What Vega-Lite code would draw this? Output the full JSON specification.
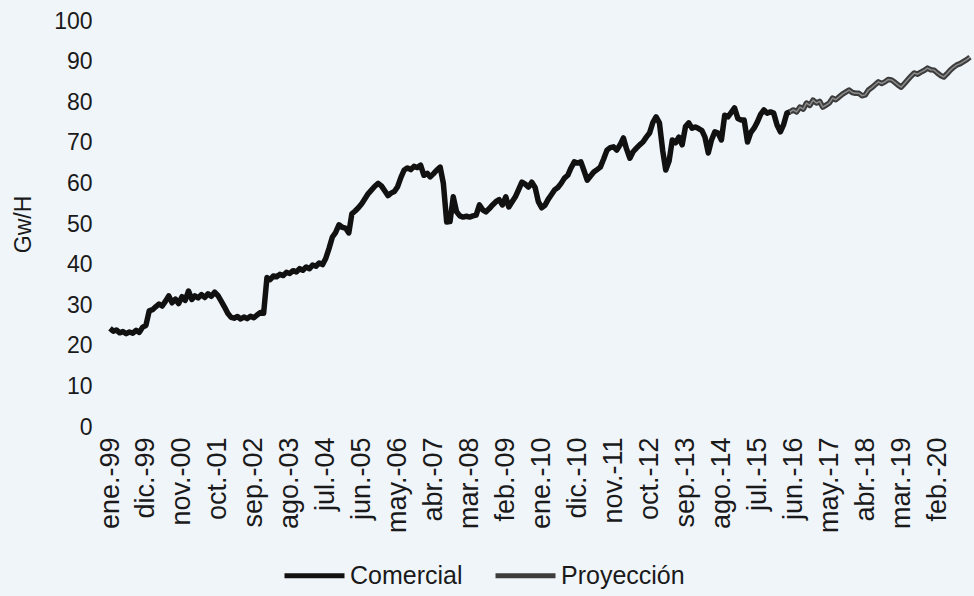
{
  "$schema": "https://vega.github.io/schema/vega-lite/v6.json",
  "autosize": {"type": "none"},
  "width": 860,
  "height": 406,
  "padding": {"left": 110, "top": 21, "right": 4, "bottom": 169},
  "background": "#f0f5fa",
  "config": {
    "view": {"stroke": null},
    "font": "Liberation Sans",
    "axis": {"labelColor": "#1a1a1a", "titleColor": "#1a1a1a", "labelFont": "Liberation Sans", "titleFont": "Liberation Sans"},
    "legend": {"labelColor": "#1a1a1a", "labelFont": "Liberation Sans"}
  },
  "data": {"values": [
    {"fecha":"1999-01","valor":24.3,"serie":"Comercial"},{"fecha":"1999-02","valor":23.6,"serie":"Comercial"},{"fecha":"1999-03","valor":23.9,"serie":"Comercial"},{"fecha":"1999-04","valor":23.2,"serie":"Comercial"},{"fecha":"1999-05","valor":23.5,"serie":"Comercial"},{"fecha":"1999-06","valor":23.0,"serie":"Comercial"},{"fecha":"1999-07","valor":23.4,"serie":"Comercial"},{"fecha":"1999-08","valor":23.1,"serie":"Comercial"},{"fecha":"1999-09","valor":23.8,"serie":"Comercial"},{"fecha":"1999-10","valor":23.3,"serie":"Comercial"},{"fecha":"1999-11","valor":24.6,"serie":"Comercial"},{"fecha":"1999-12","valor":25.0,"serie":"Comercial"},
    {"fecha":"2000-01","valor":28.6,"serie":"Comercial"},{"fecha":"2000-02","valor":28.9,"serie":"Comercial"},{"fecha":"2000-03","valor":29.6,"serie":"Comercial"},{"fecha":"2000-04","valor":30.3,"serie":"Comercial"},{"fecha":"2000-05","valor":29.8,"serie":"Comercial"},{"fecha":"2000-06","valor":31.0,"serie":"Comercial"},{"fecha":"2000-07","valor":32.3,"serie":"Comercial"},{"fecha":"2000-08","valor":30.6,"serie":"Comercial"},{"fecha":"2000-09","valor":31.5,"serie":"Comercial"},{"fecha":"2000-10","valor":30.4,"serie":"Comercial"},{"fecha":"2000-11","valor":32.1,"serie":"Comercial"},{"fecha":"2000-12","valor":31.2,"serie":"Comercial"},
    {"fecha":"2001-01","valor":33.5,"serie":"Comercial"},{"fecha":"2001-02","valor":31.4,"serie":"Comercial"},{"fecha":"2001-03","valor":32.3,"serie":"Comercial"},{"fecha":"2001-04","valor":31.8,"serie":"Comercial"},{"fecha":"2001-05","valor":32.6,"serie":"Comercial"},{"fecha":"2001-06","valor":31.9,"serie":"Comercial"},{"fecha":"2001-07","valor":32.8,"serie":"Comercial"},{"fecha":"2001-08","valor":32.2,"serie":"Comercial"},{"fecha":"2001-09","valor":33.2,"serie":"Comercial"},{"fecha":"2001-10","valor":32.4,"serie":"Comercial"},{"fecha":"2001-11","valor":31.0,"serie":"Comercial"},{"fecha":"2001-12","valor":29.6,"serie":"Comercial"},
    {"fecha":"2002-01","valor":28.0,"serie":"Comercial"},{"fecha":"2002-02","valor":27.0,"serie":"Comercial"},{"fecha":"2002-03","valor":26.8,"serie":"Comercial"},{"fecha":"2002-04","valor":27.2,"serie":"Comercial"},{"fecha":"2002-05","valor":26.6,"serie":"Comercial"},{"fecha":"2002-06","valor":27.1,"serie":"Comercial"},{"fecha":"2002-07","valor":26.7,"serie":"Comercial"},{"fecha":"2002-08","valor":27.3,"serie":"Comercial"},{"fecha":"2002-09","valor":26.9,"serie":"Comercial"},{"fecha":"2002-10","valor":27.6,"serie":"Comercial"},{"fecha":"2002-11","valor":28.2,"serie":"Comercial"},{"fecha":"2002-12","valor":28.0,"serie":"Comercial"},
    {"fecha":"2003-01","valor":36.8,"serie":"Comercial"},{"fecha":"2003-02","valor":36.3,"serie":"Comercial"},{"fecha":"2003-03","valor":37.2,"serie":"Comercial"},{"fecha":"2003-04","valor":37.0,"serie":"Comercial"},{"fecha":"2003-05","valor":37.6,"serie":"Comercial"},{"fecha":"2003-06","valor":37.3,"serie":"Comercial"},{"fecha":"2003-07","valor":38.1,"serie":"Comercial"},{"fecha":"2003-08","valor":37.8,"serie":"Comercial"},{"fecha":"2003-09","valor":38.5,"serie":"Comercial"},{"fecha":"2003-10","valor":38.2,"serie":"Comercial"},{"fecha":"2003-11","valor":39.0,"serie":"Comercial"},{"fecha":"2003-12","valor":38.6,"serie":"Comercial"},
    {"fecha":"2004-01","valor":39.4,"serie":"Comercial"},{"fecha":"2004-02","valor":39.0,"serie":"Comercial"},{"fecha":"2004-03","valor":39.9,"serie":"Comercial"},{"fecha":"2004-04","valor":39.6,"serie":"Comercial"},{"fecha":"2004-05","valor":40.4,"serie":"Comercial"},{"fecha":"2004-06","valor":40.0,"serie":"Comercial"},{"fecha":"2004-07","valor":41.5,"serie":"Comercial"},{"fecha":"2004-08","valor":44.0,"serie":"Comercial"},{"fecha":"2004-09","valor":46.8,"serie":"Comercial"},{"fecha":"2004-10","valor":47.9,"serie":"Comercial"},{"fecha":"2004-11","valor":49.8,"serie":"Comercial"},{"fecha":"2004-12","valor":49.2,"serie":"Comercial"},
    {"fecha":"2005-01","valor":49.0,"serie":"Comercial"},{"fecha":"2005-02","valor":47.8,"serie":"Comercial"},{"fecha":"2005-03","valor":52.5,"serie":"Comercial"},{"fecha":"2005-04","valor":53.2,"serie":"Comercial"},{"fecha":"2005-05","valor":54.0,"serie":"Comercial"},{"fecha":"2005-06","valor":55.0,"serie":"Comercial"},{"fecha":"2005-07","valor":56.2,"serie":"Comercial"},{"fecha":"2005-08","valor":57.5,"serie":"Comercial"},{"fecha":"2005-09","valor":58.4,"serie":"Comercial"},{"fecha":"2005-10","valor":59.3,"serie":"Comercial"},{"fecha":"2005-11","valor":60.0,"serie":"Comercial"},{"fecha":"2005-12","valor":59.4,"serie":"Comercial"},
    {"fecha":"2006-01","valor":58.2,"serie":"Comercial"},{"fecha":"2006-02","valor":57.0,"serie":"Comercial"},{"fecha":"2006-03","valor":57.6,"serie":"Comercial"},{"fecha":"2006-04","valor":58.0,"serie":"Comercial"},{"fecha":"2006-05","valor":59.2,"serie":"Comercial"},{"fecha":"2006-06","valor":61.5,"serie":"Comercial"},{"fecha":"2006-07","valor":63.3,"serie":"Comercial"},{"fecha":"2006-08","valor":63.8,"serie":"Comercial"},{"fecha":"2006-09","valor":63.4,"serie":"Comercial"},{"fecha":"2006-10","valor":64.2,"serie":"Comercial"},{"fecha":"2006-11","valor":63.9,"serie":"Comercial"},{"fecha":"2006-12","valor":64.5,"serie":"Comercial"},
    {"fecha":"2007-01","valor":62.0,"serie":"Comercial"},{"fecha":"2007-02","valor":62.5,"serie":"Comercial"},{"fecha":"2007-03","valor":61.6,"serie":"Comercial"},{"fecha":"2007-04","valor":62.4,"serie":"Comercial"},{"fecha":"2007-05","valor":63.3,"serie":"Comercial"},{"fecha":"2007-06","valor":64.0,"serie":"Comercial"},{"fecha":"2007-07","valor":60.0,"serie":"Comercial"},{"fecha":"2007-08","valor":50.5,"serie":"Comercial"},{"fecha":"2007-09","valor":50.6,"serie":"Comercial"},{"fecha":"2007-10","valor":56.7,"serie":"Comercial"},{"fecha":"2007-11","valor":53.0,"serie":"Comercial"},{"fecha":"2007-12","valor":52.0,"serie":"Comercial"},
    {"fecha":"2008-01","valor":51.7,"serie":"Comercial"},{"fecha":"2008-02","valor":51.9,"serie":"Comercial"},{"fecha":"2008-03","valor":51.7,"serie":"Comercial"},{"fecha":"2008-04","valor":52.0,"serie":"Comercial"},{"fecha":"2008-05","valor":52.2,"serie":"Comercial"},{"fecha":"2008-06","valor":54.7,"serie":"Comercial"},{"fecha":"2008-07","valor":53.5,"serie":"Comercial"},{"fecha":"2008-08","valor":53.0,"serie":"Comercial"},{"fecha":"2008-09","valor":53.8,"serie":"Comercial"},{"fecha":"2008-10","valor":54.7,"serie":"Comercial"},{"fecha":"2008-11","valor":55.5,"serie":"Comercial"},{"fecha":"2008-12","valor":56.0,"serie":"Comercial"},
    {"fecha":"2009-01","valor":54.7,"serie":"Comercial"},{"fecha":"2009-02","valor":56.7,"serie":"Comercial"},{"fecha":"2009-03","valor":54.2,"serie":"Comercial"},{"fecha":"2009-04","valor":55.5,"serie":"Comercial"},{"fecha":"2009-05","valor":56.7,"serie":"Comercial"},{"fecha":"2009-06","valor":58.5,"serie":"Comercial"},{"fecha":"2009-07","valor":60.3,"serie":"Comercial"},{"fecha":"2009-08","valor":59.8,"serie":"Comercial"},{"fecha":"2009-09","valor":59.1,"serie":"Comercial"},{"fecha":"2009-10","valor":60.3,"serie":"Comercial"},{"fecha":"2009-11","valor":59.0,"serie":"Comercial"},{"fecha":"2009-12","valor":55.5,"serie":"Comercial"},
    {"fecha":"2010-01","valor":54.0,"serie":"Comercial"},{"fecha":"2010-02","valor":54.6,"serie":"Comercial"},{"fecha":"2010-03","valor":56.0,"serie":"Comercial"},{"fecha":"2010-04","valor":57.2,"serie":"Comercial"},{"fecha":"2010-05","valor":58.4,"serie":"Comercial"},{"fecha":"2010-06","valor":59.0,"serie":"Comercial"},{"fecha":"2010-07","valor":60.0,"serie":"Comercial"},{"fecha":"2010-08","valor":61.3,"serie":"Comercial"},{"fecha":"2010-09","valor":62.0,"serie":"Comercial"},{"fecha":"2010-10","valor":63.8,"serie":"Comercial"},{"fecha":"2010-11","valor":65.3,"serie":"Comercial"},{"fecha":"2010-12","valor":65.0,"serie":"Comercial"},
    {"fecha":"2011-01","valor":65.3,"serie":"Comercial"},{"fecha":"2011-02","valor":63.0,"serie":"Comercial"},{"fecha":"2011-03","valor":60.8,"serie":"Comercial"},{"fecha":"2011-04","valor":61.8,"serie":"Comercial"},{"fecha":"2011-05","valor":62.8,"serie":"Comercial"},{"fecha":"2011-06","valor":63.4,"serie":"Comercial"},{"fecha":"2011-07","valor":64.0,"serie":"Comercial"},{"fecha":"2011-08","valor":66.0,"serie":"Comercial"},{"fecha":"2011-09","valor":68.2,"serie":"Comercial"},{"fecha":"2011-10","valor":68.8,"serie":"Comercial"},{"fecha":"2011-11","valor":69.0,"serie":"Comercial"},{"fecha":"2011-12","valor":68.2,"serie":"Comercial"},
    {"fecha":"2012-01","valor":69.5,"serie":"Comercial"},{"fecha":"2012-02","valor":71.2,"serie":"Comercial"},{"fecha":"2012-03","valor":68.5,"serie":"Comercial"},{"fecha":"2012-04","valor":66.2,"serie":"Comercial"},{"fecha":"2012-05","valor":67.8,"serie":"Comercial"},{"fecha":"2012-06","valor":68.7,"serie":"Comercial"},{"fecha":"2012-07","valor":69.5,"serie":"Comercial"},{"fecha":"2012-08","valor":70.2,"serie":"Comercial"},{"fecha":"2012-09","valor":71.4,"serie":"Comercial"},{"fecha":"2012-10","valor":72.4,"serie":"Comercial"},{"fecha":"2012-11","valor":75.0,"serie":"Comercial"},{"fecha":"2012-12","valor":76.4,"serie":"Comercial"},
    {"fecha":"2013-01","valor":74.9,"serie":"Comercial"},{"fecha":"2013-02","valor":68.0,"serie":"Comercial"},{"fecha":"2013-03","valor":63.3,"serie":"Comercial"},{"fecha":"2013-04","valor":65.5,"serie":"Comercial"},{"fecha":"2013-05","valor":70.7,"serie":"Comercial"},{"fecha":"2013-06","valor":70.0,"serie":"Comercial"},{"fecha":"2013-07","valor":71.4,"serie":"Comercial"},{"fecha":"2013-08","valor":69.5,"serie":"Comercial"},{"fecha":"2013-09","valor":74.0,"serie":"Comercial"},{"fecha":"2013-10","valor":74.9,"serie":"Comercial"},{"fecha":"2013-11","valor":73.6,"serie":"Comercial"},{"fecha":"2013-12","valor":73.9,"serie":"Comercial"},
    {"fecha":"2014-01","valor":73.5,"serie":"Comercial"},{"fecha":"2014-02","valor":73.0,"serie":"Comercial"},{"fecha":"2014-03","valor":71.4,"serie":"Comercial"},{"fecha":"2014-04","valor":67.5,"serie":"Comercial"},{"fecha":"2014-05","valor":70.7,"serie":"Comercial"},{"fecha":"2014-06","valor":72.7,"serie":"Comercial"},{"fecha":"2014-07","valor":72.4,"serie":"Comercial"},{"fecha":"2014-08","valor":70.7,"serie":"Comercial"},{"fecha":"2014-09","valor":76.8,"serie":"Comercial"},{"fecha":"2014-10","valor":76.4,"serie":"Comercial"},{"fecha":"2014-11","valor":77.5,"serie":"Comercial"},{"fecha":"2014-12","valor":78.6,"serie":"Comercial"},
    {"fecha":"2015-01","valor":76.0,"serie":"Comercial"},{"fecha":"2015-02","valor":75.6,"serie":"Comercial"},{"fecha":"2015-03","valor":75.6,"serie":"Comercial"},{"fecha":"2015-04","valor":70.2,"serie":"Comercial"},{"fecha":"2015-05","valor":72.5,"serie":"Comercial"},{"fecha":"2015-06","valor":73.6,"serie":"Comercial"},{"fecha":"2015-07","valor":75.1,"serie":"Comercial"},{"fecha":"2015-08","valor":77.0,"serie":"Comercial"},{"fecha":"2015-09","valor":78.1,"serie":"Comercial"},{"fecha":"2015-10","valor":77.3,"serie":"Comercial"},{"fecha":"2015-11","valor":77.6,"serie":"Comercial"},{"fecha":"2015-12","valor":77.3,"serie":"Comercial"},
    {"fecha":"2016-01","valor":74.4,"serie":"Comercial"},{"fecha":"2016-02","valor":72.7,"serie":"Comercial"},{"fecha":"2016-03","valor":74.4,"serie":"Comercial"},{"fecha":"2016-04","valor":77.3,"serie":"Comercial"},{"fecha":"2016-05","valor":77.6,"serie":"Comercial"},
    {"fecha":"2016-05","valor":77.6,"serie":"Proyección"},{"fecha":"2016-06","valor":78.1,"serie":"Proyección"},{"fecha":"2016-07","valor":77.6,"serie":"Proyección"},{"fecha":"2016-08","valor":78.8,"serie":"Proyección"},{"fecha":"2016-09","valor":78.3,"serie":"Proyección"},{"fecha":"2016-10","valor":79.8,"serie":"Proyección"},{"fecha":"2016-11","valor":79.2,"serie":"Proyección"},{"fecha":"2016-12","valor":80.5,"serie":"Proyección"},
    {"fecha":"2017-01","valor":79.8,"serie":"Proyección"},{"fecha":"2017-02","valor":80.2,"serie":"Proyección"},{"fecha":"2017-03","valor":78.8,"serie":"Proyección"},{"fecha":"2017-04","valor":79.3,"serie":"Proyección"},{"fecha":"2017-05","valor":79.8,"serie":"Proyección"},{"fecha":"2017-06","valor":81.0,"serie":"Proyección"},{"fecha":"2017-07","valor":80.6,"serie":"Proyección"},{"fecha":"2017-08","valor":81.3,"serie":"Proyección"},{"fecha":"2017-09","valor":82.0,"serie":"Proyección"},{"fecha":"2017-10","valor":82.5,"serie":"Proyección"},{"fecha":"2017-11","valor":83.0,"serie":"Proyección"},{"fecha":"2017-12","valor":82.4,"serie":"Proyección"},
    {"fecha":"2018-01","valor":82.2,"serie":"Proyección"},{"fecha":"2018-02","valor":82.2,"serie":"Proyección"},{"fecha":"2018-03","valor":81.6,"serie":"Proyección"},{"fecha":"2018-04","valor":81.8,"serie":"Proyección"},{"fecha":"2018-05","valor":83.0,"serie":"Proyección"},{"fecha":"2018-06","valor":83.6,"serie":"Proyección"},{"fecha":"2018-07","valor":84.3,"serie":"Proyección"},{"fecha":"2018-08","valor":85.0,"serie":"Proyección"},{"fecha":"2018-09","valor":84.6,"serie":"Proyección"},{"fecha":"2018-10","valor":85.0,"serie":"Proyección"},{"fecha":"2018-11","valor":85.6,"serie":"Proyección"},{"fecha":"2018-12","valor":85.5,"serie":"Proyección"},
    {"fecha":"2019-01","valor":84.9,"serie":"Proyección"},{"fecha":"2019-02","valor":84.2,"serie":"Proyección"},{"fecha":"2019-03","valor":83.7,"serie":"Proyección"},{"fecha":"2019-04","valor":84.6,"serie":"Proyección"},{"fecha":"2019-05","valor":85.5,"serie":"Proyección"},{"fecha":"2019-06","valor":86.4,"serie":"Proyección"},{"fecha":"2019-07","valor":87.2,"serie":"Proyección"},{"fecha":"2019-08","valor":86.9,"serie":"Proyección"},{"fecha":"2019-09","valor":87.4,"serie":"Proyección"},{"fecha":"2019-10","valor":87.8,"serie":"Proyección"},{"fecha":"2019-11","valor":88.4,"serie":"Proyección"},{"fecha":"2019-12","valor":88.0,"serie":"Proyección"},
    {"fecha":"2020-01","valor":87.9,"serie":"Proyección"},{"fecha":"2020-02","valor":87.2,"serie":"Proyección"},{"fecha":"2020-03","valor":86.6,"serie":"Proyección"},{"fecha":"2020-04","valor":86.2,"serie":"Proyección"},{"fecha":"2020-05","valor":87.0,"serie":"Proyección"},{"fecha":"2020-06","valor":87.9,"serie":"Proyección"},{"fecha":"2020-07","valor":88.6,"serie":"Proyección"},{"fecha":"2020-08","valor":89.2,"serie":"Proyección"},{"fecha":"2020-09","valor":89.5,"serie":"Proyección"},{"fecha":"2020-10","valor":90.0,"serie":"Proyección"},{"fecha":"2020-11","valor":90.5,"serie":"Proyección"},{"fecha":"2020-12","valor":91.1,"serie":"Proyección"}
  ]},
  "encoding": {
    "x": {
      "field": "fecha", "type": "temporal",
      "scale": {"type": "utc", "domain": [{"year": 1999, "month": 1, "date": 1, "utc": true}, {"year": 2020, "month": 12, "date": 1, "utc": true}], "nice": false},
      "axis": {
        "title": null, "domain": false, "ticks": false, "grid": false,
        "labelAngle": -90, "labelFontSize": 27, "labelPadding": 10, "labelOverlap": false,
        "values": [
          {"year":1999,"month":1,"date":1,"utc":true},{"year":1999,"month":12,"date":1,"utc":true},{"year":2000,"month":11,"date":1,"utc":true},{"year":2001,"month":10,"date":1,"utc":true},{"year":2002,"month":9,"date":1,"utc":true},{"year":2003,"month":8,"date":1,"utc":true},{"year":2004,"month":7,"date":1,"utc":true},{"year":2005,"month":6,"date":1,"utc":true},{"year":2006,"month":5,"date":1,"utc":true},{"year":2007,"month":4,"date":1,"utc":true},{"year":2008,"month":3,"date":1,"utc":true},{"year":2009,"month":2,"date":1,"utc":true},{"year":2010,"month":1,"date":1,"utc":true},{"year":2010,"month":12,"date":1,"utc":true},{"year":2011,"month":11,"date":1,"utc":true},{"year":2012,"month":10,"date":1,"utc":true},{"year":2013,"month":9,"date":1,"utc":true},{"year":2014,"month":8,"date":1,"utc":true},{"year":2015,"month":7,"date":1,"utc":true},{"year":2016,"month":6,"date":1,"utc":true},{"year":2017,"month":5,"date":1,"utc":true},{"year":2018,"month":4,"date":1,"utc":true},{"year":2019,"month":3,"date":1,"utc":true},{"year":2020,"month":2,"date":1,"utc":true}
        ],
        "labelExpr": "['ene.','feb.','mar.','abr.','may.','jun.','jul.','ago.','sep.','oct.','nov.','dic.'][utcmonth(datum.value)] + '-' + utcFormat(datum.value, '%y')"
      }
    },
    "y": {
      "field": "valor", "type": "quantitative",
      "scale": {"domain": [0, 100], "nice": false},
      "axis": {
        "title": "Gw/H", "titleFontSize": 23, "titleFontWeight": "normal", "titlePadding": 18,
        "domain": false, "ticks": false, "grid": false,
        "labelFontSize": 23, "labelPadding": 18,
        "values": [0, 10, 20, 30, 40, 50, 60, 70, 80, 90, 100]
      }
    }
  },
  "layer": [
    {
      "mark": {"type": "line", "strokeWidth": 5.5, "strokeJoin": "round"},
      "encoding": {
        "color": {
          "field": "serie", "type": "nominal",
          "scale": {"domain": ["Comercial", "Proyección"], "range": ["#111111", "#3c3c3c"]},
          "legend": {
            "title": null, "orient": "none", "direction": "horizontal",
            "legendX": 172, "legendY": 522,
            "symbolType": "stroke", "symbolSize": 3600, "symbolStrokeWidth": 5,
            "labelFontSize": 25, "labelOffset": 3, "columnPadding": 22
          }
        }
      }
    },
    {
      "transform": [{"filter": "datum.serie == 'Proyección'"}],
      "mark": {"type": "line", "strokeWidth": 1.5, "color": "#8c8c8c", "strokeJoin": "round"},
      "encoding": {}
    }
  ]
}
